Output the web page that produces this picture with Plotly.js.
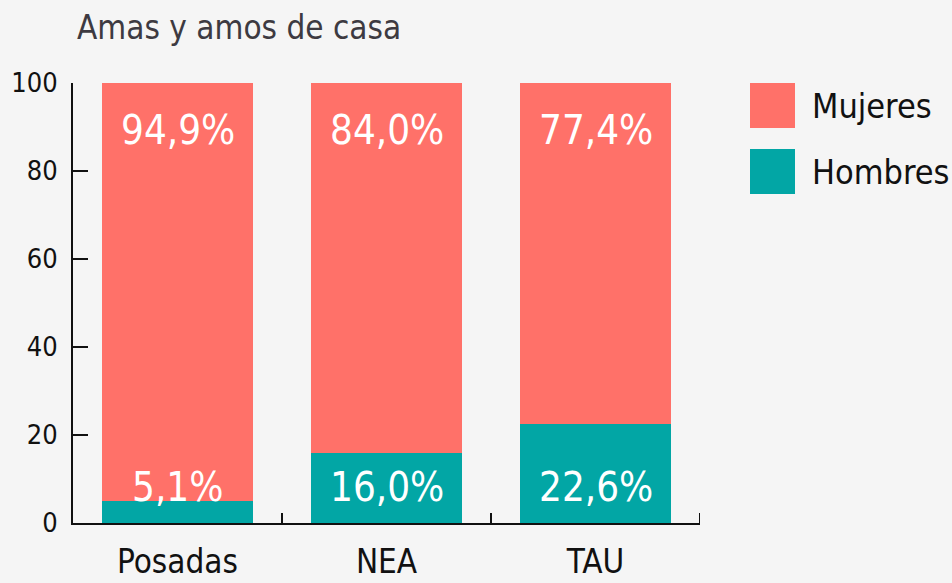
<!DOCTYPE html>
<html>
<head>
<meta charset="utf-8">
<script src="https://cdn.plot.ly/plotly-3.0.1.min.js"></script>
<style>
  html, body { margin: 0; padding: 0; background: #f5f5f5; }
  #chart { width: 952px; height: 583px; }
</style>
</head>
<body>
<div id="chart"></div>
<script>
const categories = ["Posadas", "NEA", "TAU"];
const seriesNames = ["Mujeres", "Hombres"];
const mujeres = [94.9, 84.0, 77.4];
const hombres = [5.1, 16.0, 22.6];
const yTicks = [0, 20, 40, 60, 80, 100];
const titleText = "Amas y amos de casa";

const FONT = '"DejaVu Sans Condensed", "Liberation Sans Narrow", "Roboto", sans-serif';
const C_MUJ = "#FF7169";
const C_HOM = "#02A6A5";
const BG = "#f5f5f5";

// plot geometry (pixels)
const L = 73, R = 252, T = 83, B = 60, W = 952, H = 583;
const PW = W - L - R, PH = H - T - B;
const px = x => (x - L) / PW;
const py = y => (H - B - y) / PH;

const fmt = v => v.toFixed(1).replace(".", ",") + "%";

const traces = [
  { type: "bar", x: categories, y: hombres, name: seriesNames[1],
    marker: { color: C_HOM }, showlegend: false, hoverinfo: "none" },
  { type: "bar", x: categories, y: mujeres, name: seriesNames[0],
    marker: { color: C_MUJ }, showlegend: false, hoverinfo: "none" }
];

const annotations = [];
categories.forEach((c, i) => {
  annotations.push({ x: c, y: 89.3, xref: "x", yref: "y", text: fmt(mujeres[i]),
    showarrow: false, font: { family: FONT, size: 40, color: "#ffffff" },
    xanchor: "center", yanchor: "middle" });
  annotations.push({ x: c, y: 8.2, xref: "x", yref: "y", text: fmt(hombres[i]),
    showarrow: false, font: { family: FONT, size: 40, color: "#ffffff" },
    xanchor: "center", yanchor: "middle" });
});

// custom legend
const legendColors = [C_MUJ, C_HOM];
const legendTops = [83, 149];
const shapes = [];
seriesNames.forEach((n, i) => {
  const top = legendTops[i];
  shapes.push({ type: "rect", xref: "paper", yref: "paper",
    x0: px(750), x1: px(795), y0: py(top + 45), y1: py(top),
    fillcolor: legendColors[i], line: { width: 0 } });
  annotations.push({ xref: "paper", yref: "paper", x: px(810), y: py(top + 22.5),
    xanchor: "left", yanchor: "middle", showarrow: false, text: n,
    font: { family: FONT, size: 34, color: "#111111" } });
});

// closing boundary tick at the right end of the x axis
const lastBoundary = categories.length - 0.5;
shapes.push({ type: "line", xref: "x", yref: "y", ysizemode: "pixel", yanchor: 0,
  x0: lastBoundary, x1: lastBoundary, y0: 0, y1: 10,
  line: { color: "#111111", width: 2 } });

const layout = {
  width: W, height: H,
  paper_bgcolor: BG, plot_bgcolor: BG,
  margin: { l: L, r: R, t: T, b: B, pad: 0 },
  barmode: "stack",
  bargap: 0.28,
  showlegend: false,
  title: { text: titleText, xref: "container", yref: "container",
    x: 77 / W, xanchor: "left", y: 1 - 27 / H, yanchor: "middle",
    font: { family: FONT, size: 33, color: "#3d3a41" } },
  xaxis: {
    type: "category", range: [-0.5, 2.5],
    showline: true, linecolor: "#111111", linewidth: 2,
    ticks: "inside", tickson: "boundaries", ticklen: 10, tickwidth: 2, tickcolor: "#111111",
    showgrid: false, zeroline: false,
    tickfont: { family: FONT, size: 33, color: "#111111" },
    ticklabelstandoff: 8
  },
  yaxis: {
    range: [0, 100], tickvals: yTicks, ticktext: yTicks.map(String),
    showline: true, linecolor: "#111111", linewidth: 2,
    ticks: "inside", ticklen: 15, tickwidth: 2, tickcolor: "#111111",
    showgrid: false, zeroline: false,
    tickfont: { family: FONT, size: 27, color: "#111111" },
    ticklabelstandoff: 8
  },
  annotations: annotations,
  shapes: shapes
};

Plotly.newPlot("chart", traces, layout, { displayModeBar: false, staticPlot: true });
</script>
</body>
</html>
